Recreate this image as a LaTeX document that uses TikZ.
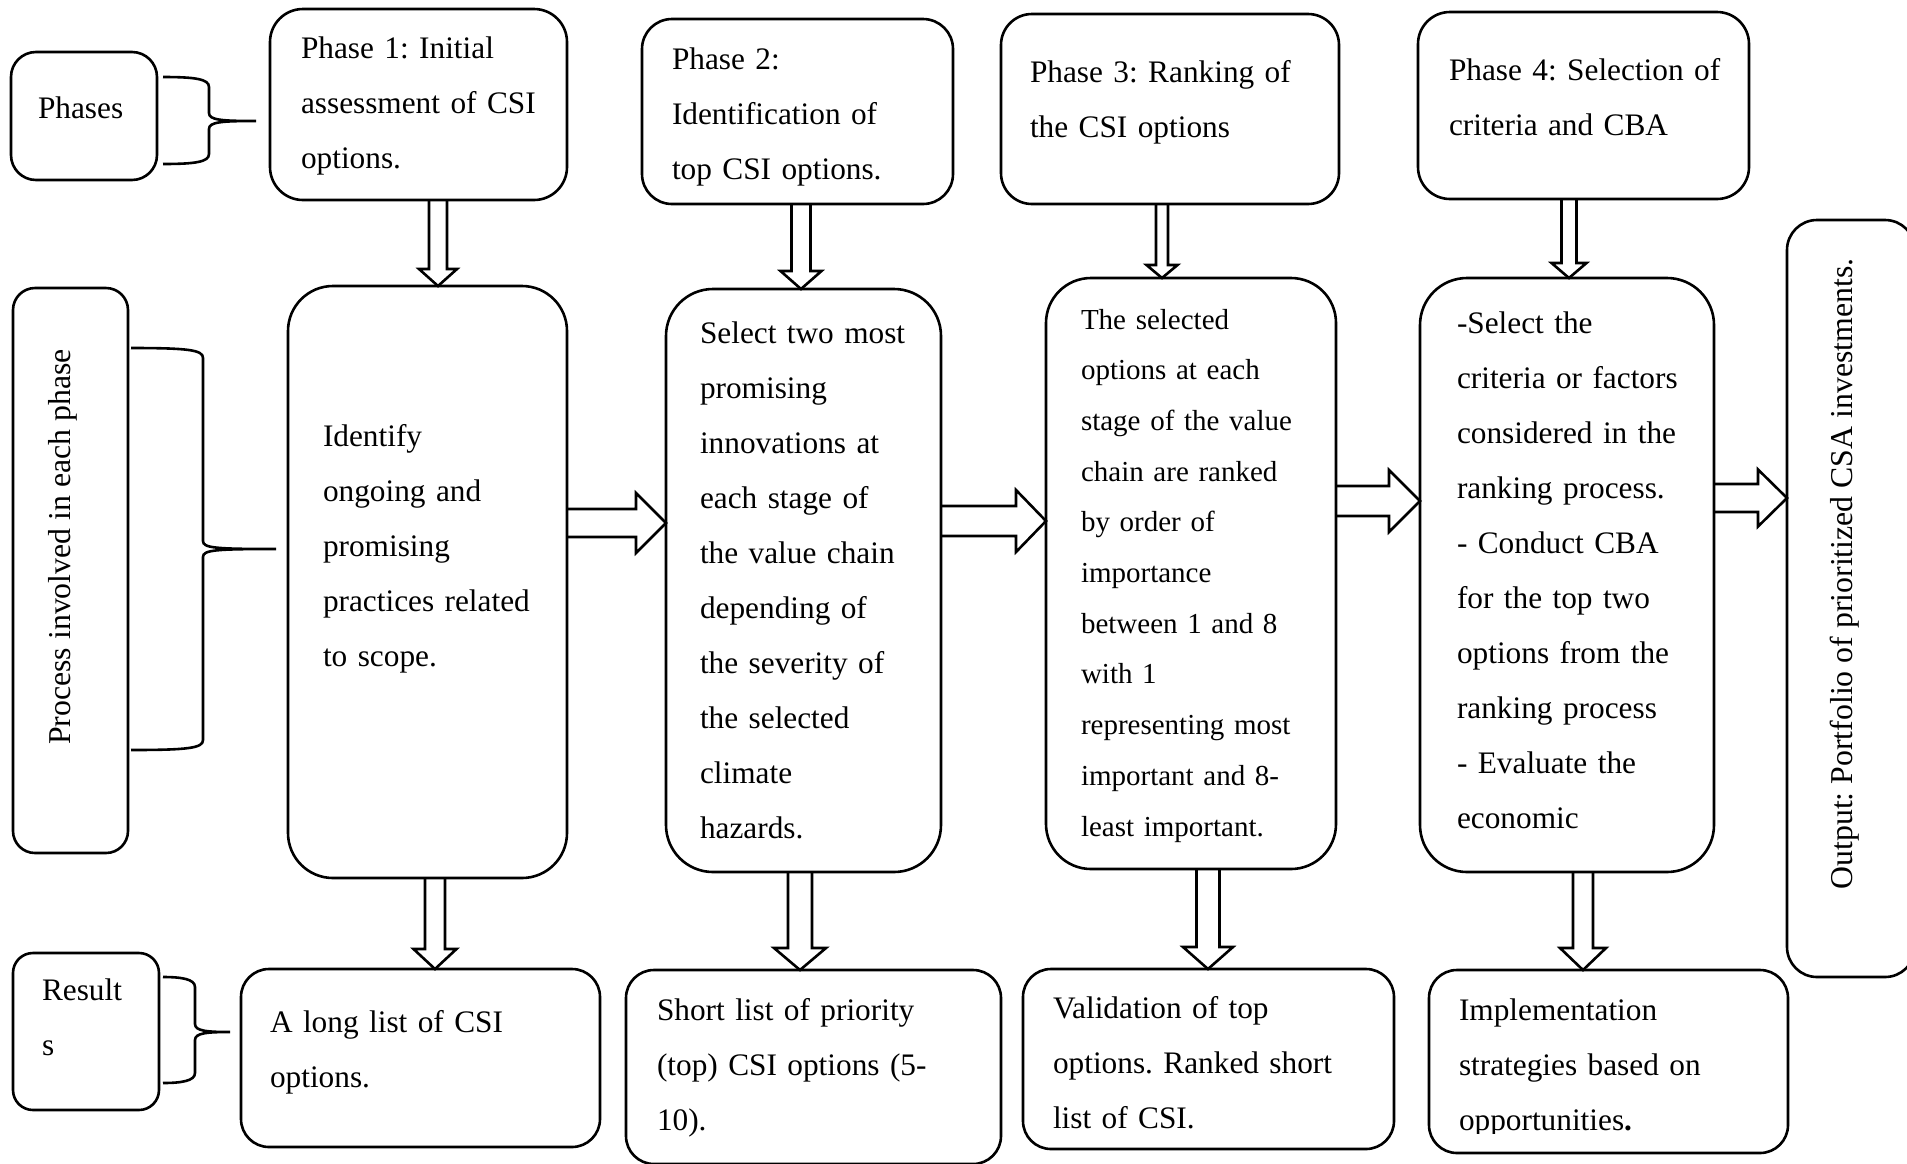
\documentclass[tikz,border=0pt]{standalone}
\usepackage{fontspec}
\setmainfont{Liberation Serif}
\usetikzlibrary{calc}
\tikzset{
  bx/.style={draw, line width=2.6pt, rectangle, outer sep=0pt, inner sep=0pt},
  txt/.style={inner sep=0pt, outer sep=0pt, text width=560pt, align=left, anchor=base west, font=\fontsize{31.3}{55}\selectfont\frenchspacing},
  txts/.style={txt, font=\fontsize{29}{50.7}\selectfont\frenchspacing},
  rtxt/.style={inner sep=0pt, outer sep=0pt, rotate=90, font=\fontsize{31.8}{55}\selectfont\frenchspacing},
  blk/.style={draw, line width=2.6pt, line join=miter},
  brc/.style={draw, line width=2.6pt},
}
% name, x1, y1, x2, y2, radius
\newcommand{\mkbox}[6]{\node[bx, rounded corners=#6pt, minimum width={#4-#2}, minimum height={#5-#3}] (#1) at ({(#2+#4)/2},{(#3+#5)/2}) {};}
% vertical block arrow: x, from, to, half shaft, half head, head length
\newcommand{\vblk}[6]{\draw[blk] let \p1=(#2), \p2=(#3) in
  (#1pt-#4pt,\y1) -- (#1pt-#4pt,\y2+#6pt) -- (#1pt-#5pt,\y2+#6pt) -- (#1pt,\y2) -- (#1pt+#5pt,\y2+#6pt) -- (#1pt+#4pt,\y2+#6pt) -- (#1pt+#4pt,\y1);}
% horizontal block arrow: y, from, to, half shaft, half head, head length
\newcommand{\hblk}[6]{\draw[blk] let \p1=(#2), \p2=(#3) in
  (\x1,-#1pt+#4pt) -- (\x2-#6pt,-#1pt+#4pt) -- (\x2-#6pt,-#1pt+#5pt) -- (\x2,-#1pt) -- (\x2-#6pt,-#1pt-#5pt) -- (\x2-#6pt,-#1pt-#4pt) -- (\x1,-#1pt-#4pt);}
% right curly brace: x0, xv, xtip, ytop, ymid, ybot
\newcommand{\rbr}[6]{\draw[brc] (#1,#4) .. controls ({#2-14},#4) and (#2,{#4+2}) .. (#2,{#4+10})
  -- (#2,{#5-8}) .. controls (#2,{#5-1}) and ({#2+12},#5) .. (#3,#5)
  .. controls ({#2+12},#5) and (#2,{#5+1}) .. (#2,{#5+8})
  -- (#2,{#6-10}) .. controls (#2,{#6-2}) and ({#2-14},#6) .. (#1,#6);}
\begin{document}
\frenchspacing
\begin{tikzpicture}[x=1pt,y=-1pt]
\useasboundingbox (0,0) rectangle (1907,1163);
% boxes
\mkbox{lab1}{11}{52}{157}{180}{25}
\mkbox{ph1}{270}{9}{567}{200}{33}
\mkbox{ph2}{642}{19}{953}{204}{30}
\mkbox{ph3}{1001}{14}{1339}{204}{31}
\mkbox{ph4}{1418}{12}{1749}{199}{32}
\mkbox{lab2}{13}{288}{128}{853}{22}
\mkbox{pr1}{288}{286}{567}{878}{45}
\mkbox{pr2}{666}{289}{941}{872}{47}
\mkbox{pr3}{1046}{278}{1336}{869}{45}
\mkbox{pr4}{1420}{278}{1714}{872}{47}
\mkbox{out}{1787}{220}{1915}{977}{30}
\mkbox{lab3}{13}{953}{159}{1110}{20}
\mkbox{rs1}{241}{969}{600}{1147}{28}
\mkbox{rs2}{626}{970}{1001}{1164}{28}
\mkbox{rs3}{1023}{969}{1394}{1149}{28}
\mkbox{rs4}{1429}{970}{1788}{1153}{28}
% texts
\node[txt] (lab1t) at (38,118) {Phases};
\node[rtxt] (lab2t) at (63,547) {Process involved in each phase};
\node[txt] (lab3t) at (42,1000) {Result\\s};
\node[txt] (ph1t) at (301,58) {Phase 1: Initial\\assessment of CSI\\options.};
\node[txt] (ph2t) at (672,69) {Phase 2:\\Identification of\\top CSI options.};
\node[txt] (ph3t) at (1030,82) {Phase 3: Ranking of\\the CSI options};
\node[txt] (ph4t) at (1449,80) {Phase 4: Selection of\\criteria and CBA};
\node[txt] (pr1t) at (323,446) {Identify\\ongoing and\\promising\\practices related\\to scope.};
\node[txt] (pr2t) at (700,343) {Select two most\\promising\\innovations at\\each stage of\\the value chain\\depending of\\the severity of\\the selected\\climate\\hazards.};
\node[txts] (pr3t) at (1081,329) {The selected\\options at each\\stage of the value\\chain are ranked\\by order of\\importance\\between 1 and 8\\with 1\\representing most\\important and 8-\\least important.};
\node[txt] (pr4t) at (1457,333) {-Select the\\criteria or factors\\considered in the\\ranking process.\\- Conduct CBA\\for the top two\\options from the\\ranking process\\- Evaluate the\\economic};
\node[rtxt] (outt) at (1845,574) {Output: Portfolio of prioritized CSA investments.};
\node[txt] (rs1t) at (270,1032) {A long list of CSI\\options.};
\node[txt] (rs2t) at (657,1020) {Short list of priority\\(top) CSI options (5-\\10).};
\node[txt] (rs3t) at (1053,1018) {Validation of top\\options. Ranked short\\list of CSI.};
\begin{scope}
\clip (1432,972) rectangle (1786,1133);
\node[txt] (rs4t) at (1459,1020) {Implementation\\strategies based on\\opportunities\textbf{.}};
\end{scope}
% braces
\rbr{163}{209}{256}{77}{121}{164}
\rbr{131}{203}{276}{348}{549}{750}
\rbr{163}{195}{230}{977}{1032}{1083}
% block arrows
\vblk{438}{ph1.south}{pr1.north}{9}{19}{17}
\vblk{801}{ph2.south}{pr2.north}{9.5}{20.5}{18}
\vblk{1162}{ph3.south}{pr3.north}{6}{15.5}{13}
\vblk{1569}{ph4.south}{pr4.north}{7.5}{17.5}{15}
\vblk{435}{pr1.south}{rs1.north}{10}{21.5}{20}
\vblk{800}{pr2.south}{rs2.north}{12}{26}{22}
\vblk{1208}{pr3.south}{rs3.north}{11.5}{25}{22}
\vblk{1583}{pr4.south}{rs4.north}{10}{23}{22}
\hblk{523}{pr1.east}{pr2.west}{14}{30}{30}
\hblk{521}{pr2.east}{pr3.west}{15}{31}{30}
\hblk{501}{pr3.east}{pr4.west}{15}{31}{31}
\hblk{498}{pr4.east}{out.west}{14}{28.5}{29}
\end{tikzpicture}
\end{document}
